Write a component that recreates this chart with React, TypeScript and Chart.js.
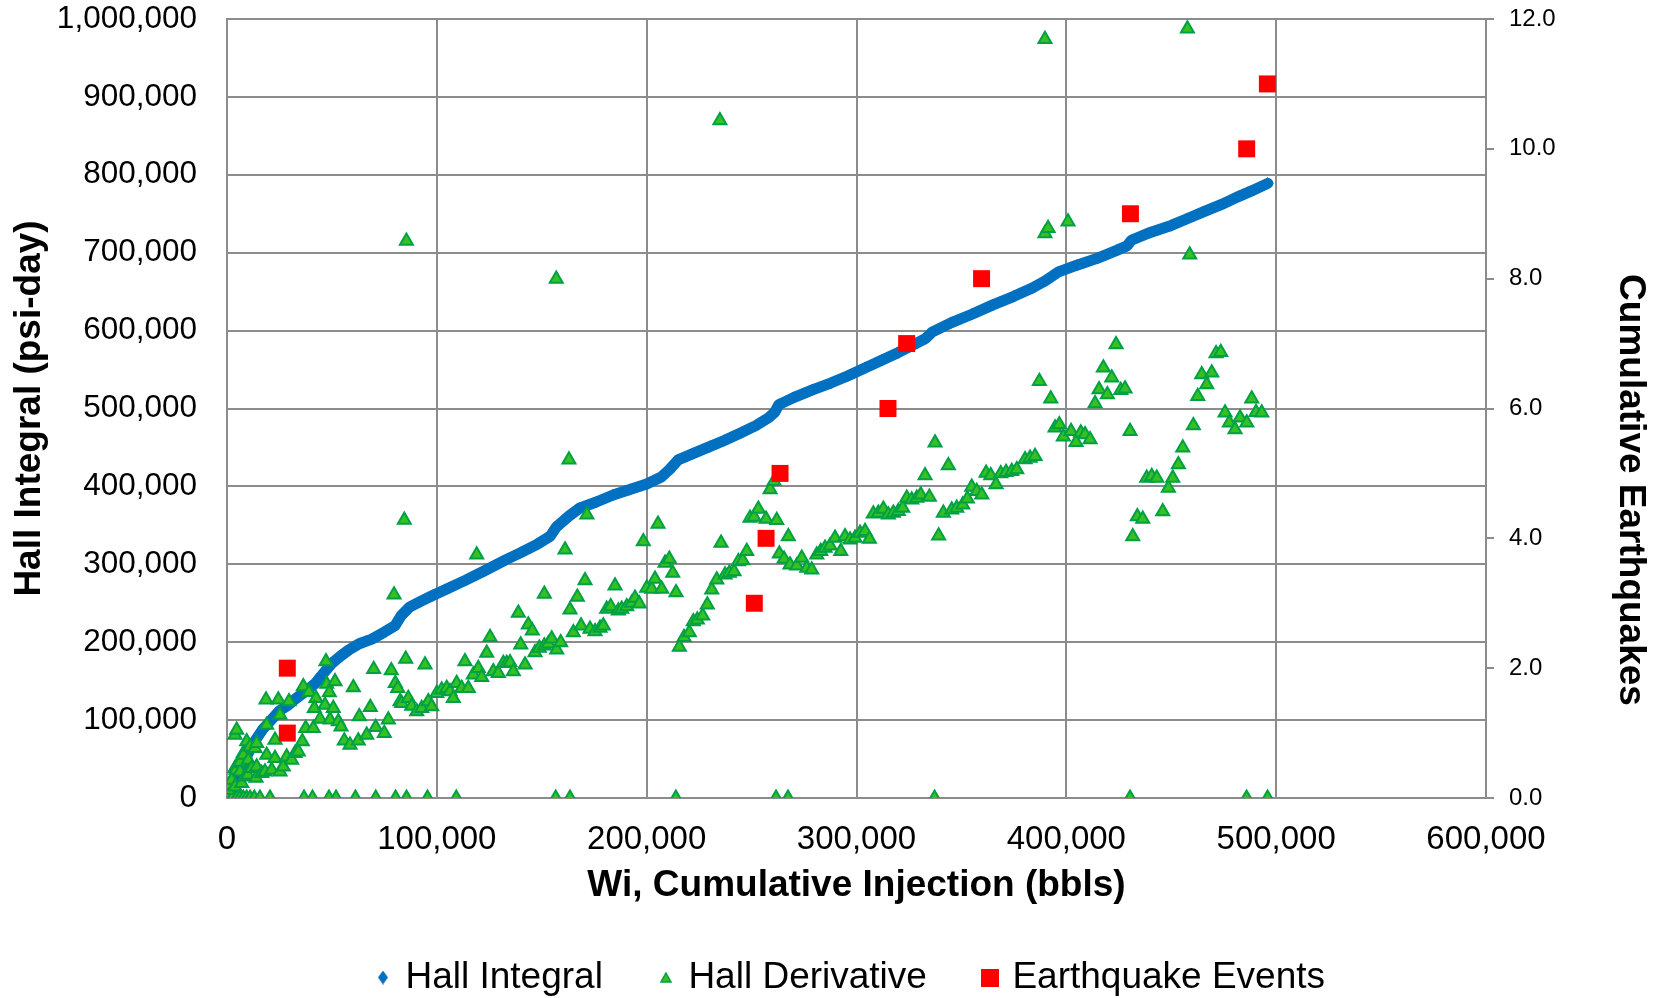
import React, { useEffect, useRef } from 'react';
import { Chart, registerables } from 'chart.js';

Chart.register(...registerables);

// ---------------- data ----------------
const integralX = [0, 3000, 6000, 10000, 14000, 17000, 21000, 25000, 29000, 33000, 37000, 42000, 46000, 50000, 54000, 58000, 63000, 69000, 75000, 80000, 83000, 87000, 92000, 98000, 106000, 114000, 123000, 133000, 140000, 148000, 154000, 157000, 163000, 168000, 176000, 184000, 192000, 200000, 207000, 211000, 215000, 222000, 230000, 237000, 245000, 252000, 258000, 261000, 263000, 270000, 279000, 288000, 296000, 304000, 312000, 320000, 328000, 333000, 336000, 345000, 355000, 365000, 375000, 384000, 390000, 396000, 405000, 415000, 424000, 429000, 431000, 440000, 450000, 457000, 465000, 474000, 482000, 488000, 496000];
const integralY = [0, 14000, 32000, 57000, 76000, 88000, 100000, 112000, 119000, 128000, 136000, 147000, 160000, 173000, 182000, 190000, 198000, 204000, 213000, 221000, 234000, 245000, 252000, 260000, 270000, 280000, 292000, 306000, 315000, 326000, 336000, 348000, 362000, 372000, 380000, 389000, 396000, 403000, 412000, 422000, 434000, 442000, 451000, 459000, 469000, 478000, 488000, 495000, 505000, 514000, 524000, 533000, 542000, 552000, 562000, 572000, 583000, 590000, 598000, 610000, 621000, 633000, 644000, 655000, 664000, 675000, 684000, 693000, 703000, 709000, 716000, 726000, 735000, 743000, 752000, 762000, 772000, 779000, 789000];

const derivX = [600, 2500, 4600, 6200, 7800, 9400, 11000, 13000, 15700, 20500, 36700, 40750, 48600, 51950, 61200, 70900, 80350, 85550, 95550, 109250, 156650, 163450, 213900, 261650, 267350, 337200, 430350, 485900, 495900,
  620, 950, 2240, 3810, 7000, 3810, 4290, 5380, 6200, 6200, 8580, 10000, 13800, 3810, 4620, 7770, 7770, 9390, 10150, 10960, 11770, 13340, 14150, 14150, 16540, 18110, 18920, 18920, 21300, 22880, 22880, 25260, 26830, 25260, 18590, 24450, 29550, 28450, 30830, 32410, 33980, 35890, 37500, 41130, 36370, 39080, 42420, 41610, 46700, 50660, 44320, 49090, 53050, 54330, 47180, 47500, 51470, 48760, 55900, 58620, 62580, 66580, 63050, 60200, 68300, 69900, 70870, 74970, 76880, 78300, 79600, 80200, 81350, 82450, 83260, 84500, 85170, 85500, 86400, 88020, 90410, 92790, 94370, 95940, 97560, 99940, 102330, 104710, 106280, 107850, 109470, 111860, 113400, 115000, 117390, 119000, 119770, 121390, 123770, 125350, 126920, 129310, 131690, 133300, 134880, 136450, 138840, 139980, 142030, 143600, 145510, 146790, 148840, 151220, 151220, 153130, 154750, 156900, 157130, 159040, 161100, 162960, 163470, 165050, 166960, 168720, 170620, 171500, 173000, 175390, 177770, 179350, 180960, 182870, 184920, 186490, 188110, 190500, 192880, 194450, 196500, 198400, 200030, 202410, 203980, 205400, 207170, 208750, 210800, 212420, 214000, 215570, 217810, 220350, 222240, 224140, 226700, 228900, 231000, 233400, 234900, 235440, 237350, 239400, 241630, 243700, 245780, 247700, 249260, 251170, 253220, 256890, 258800, 260700, 261990, 263230, 265470, 267510, 268320, 271520, 273900, 276280, 278670, 281060, 282960, 285010, 287400, 289780, 292490, 294540, 296920, 299300, 301690, 304070, 306130, 308030, 310410, 312790, 315180, 317560, 319940, 322040, 323950, 326330, 328720, 330620, 332670, 334720, 337430, 339150, 341390, 343770, 345390, 347770, 350630, 352830, 354930, 357310, 359700, 361750, 363990, 366510, 368750, 371280, 374000, 376380, 380330, 382710, 385090, 387150, 389800, 389800, 391300, 392580, 394620, 396670, 398570, 400800, 402250, 404630, 406870, 408920, 411300, 413700, 415600, 417650, 419550, 421650, 423700, 425940, 427980, 430370, 431650, 433850, 436420, 438320, 440700, 443090, 445950, 448630, 450720, 453390, 455480, 457700, 458800, 460530, 462630, 464530, 466920, 469300, 471360, 473600, 475640, 477690, 480400, 482800, 485990, 488360, 490410, 493130];
const derivY = [0, 0, 0, 0, 0, 0, 0, 0, 0, 0, 0, 0, 0, 0, 0, 0, 0, 0, 0, 0, 0, 0, 0, 0, 0, 0, 0, 0, 0,
  10300, 16700, 23100, 14500, 18900, 38200, 36000, 44600, 33800, 46300, 27400, 29600, 25700, 81000, 87400, 57500, 55300, 72400, 48800, 65900, 38200, 63900, 70300, 40200, 31700, 33800, 55300, 93800, 36000, 51000, 74500, 33800, 40200, 106700, 126000, 126000, 123800, 53100, 48800, 57500, 59500, 72400, 89600, 89600, 143000, 135800, 128100, 115300, 119500, 115300, 101500, 100300, 98100, 91600, 175200, 146500, 149500, 135300, 73600, 68100, 73600, 81000, 104500, 141800, 116600, 165400, 90900, 83200, 100300, 163600, 260900, 147400, 141000, 123800, 121700, 357000, 178300, 715000, 128100, 118200, 110900, 115300, 170900, 123800, 117300, 134600, 138800, 141000, 136600, 128100, 147400, 141000, 175200, 141000, 158100, 312300, 166700, 155100, 186000, 206500, 162300, 160300, 173100, 173100, 173900, 162300, 237400, 196600, 170900, 222400, 214600, 186800, 192400, 195400, 261800, 197900, 204400, 666200, 190200, 199600, 318800, 434200, 241600, 212500, 258000, 221100, 279300, 363700, 216800, 213700, 218100, 221100, 242500, 245900, 272500, 240500, 242500, 245900, 250200, 256700, 249300, 329400, 269500, 268200, 281000, 351800, 268200, 301700, 306800, 288800, 263900, 193700, 206500, 212500, 226600, 228800, 233900, 248100, 267300, 280200, 869600, 327400, 286600, 288800, 290900, 303700, 305000, 316600, 359500, 360800, 371100, 358200, 395900, 406500, 356400, 313600, 306800, 335800, 299500, 298200, 308100, 295200, 293000, 312300, 316600, 320900, 323900, 333800, 316600, 335800, 331600, 333800, 340300, 342300, 332500, 365000, 365900, 371100, 363700, 365900, 368000, 372300, 385200, 383000, 385200, 389400, 413900, 386500, 455900, 336700, 365900, 426700, 370100, 372300, 376600, 384000, 399300, 393700, 389400, 417300, 413900, 402300, 416400, 418100, 419400, 421600, 434400, 436600, 438700, 535100, 974100, 724500, 731300, 512400, 475200, 479400, 463600, 739800, 470800, 456700, 468800, 466600, 460100, 506400, 524400, 552300, 518000, 539400, 582200, 523500, 525300, 470800, 335800, 361500, 358200, 410900, 413000, 410900, 367700, 398100, 410900, 428000, 449500, 987600, 697400, 478100, 515800, 543700, 530800, 545900, 570700, 572300, 494500, 481600, 473000, 488000, 481600, 512400, 495200, 494500];

const quakeX = [28740, 28740, 251300, 256900, 263560, 315000, 323900, 359600, 430550, 485950, 495800];
const quakeY = [2, 1, 3, 4, 5, 6, 7, 8, 9, 10, 11];

const xTickValues = [0, 100000, 200000, 300000, 400000, 500000, 600000];
const leftTickValues = [0, 100000, 200000, 300000, 400000, 500000, 600000, 700000, 800000, 900000, 1000000];
const rightTickValues = [0, 2, 4, 6, 8, 10, 12];

const seriesNames = ['Hall Integral', 'Hall Derivative', 'Earthquake Events'];
const xTitle = 'Wi, Cumulative Injection (bbls)';
const leftTitle = 'Hall Integral (psi-day)';
const rightTitle = 'Cumulative Earthquakes';

// ---------------- layout / style ----------------
const W = 1655;
const H = 1006;
const PLOT_LEFT = 227;
const PLOT_RIGHT = 1486;
const PLOT_TOP = 19;
const PLOT_BOTTOM = 798;
const LEGEND_FONT = 37;
const LEGEND_PAD = 59;
const LEGEND_SHIFT = 24.5;
const LEGEND_H = LEGEND_FONT + LEGEND_PAD + 10;
const GRID = '#8c8c8c';
const FONT = '"Liberation Sans", Arial, Helvetica, sans-serif';
const BLUE = '#0070C0';
const GREEN_FILL = '#36C21E';
const GREEN_EDGE = '#00A046';
const RED = '#FF0000';

const toPoints = (xs: number[], ys: number[]) => xs.map((x, i) => ({ x, y: ys[i] }));
const fmt = (v: number) => Math.round(v).toLocaleString('en-US');

function legendMarker(kind: string): HTMLCanvasElement {
  const c = document.createElement('canvas');
  const ctx = c.getContext('2d') as CanvasRenderingContext2D;
  if (kind === 'diamond') {
    c.width = 10; c.height = 14;
    ctx.fillStyle = BLUE;
    ctx.beginPath();
    ctx.moveTo(5, 0); ctx.lineTo(10, 7); ctx.lineTo(5, 14); ctx.lineTo(0, 7);
    ctx.closePath(); ctx.fill();
  } else if (kind === 'triangle') {
    c.width = 12; c.height = 11;
    ctx.fillStyle = GREEN_FILL;
    ctx.strokeStyle = GREEN_EDGE;
    ctx.lineWidth = 1.5;
    ctx.beginPath();
    ctx.moveTo(6, 1); ctx.lineTo(11, 10); ctx.lineTo(1, 10);
    ctx.closePath(); ctx.fill(); ctx.stroke();
  } else {
    c.width = 18; c.height = 18;
    ctx.fillStyle = RED;
    ctx.fillRect(0, 0, 18, 18);
  }
  return c;
}

export default function App() {
  const ref = useRef<HTMLCanvasElement | null>(null);

  useEffect(() => {
    document.body.style.margin = '0';
    document.body.style.overflow = 'hidden';
    const canvas = ref.current;
    if (!canvas) return;

    const markers = [legendMarker('diamond'), legendMarker('triangle'), legendMarker('square')];

    const axisTitles = {
      id: 'axisTitles',
      afterDraw(chart: any) {
        const ctx = chart.ctx as CanvasRenderingContext2D;
        ctx.save();
        ctx.fillStyle = '#000';
        ctx.font = `bold 37px ${FONT}`;
        ctx.textAlign = 'center';
        ctx.textBaseline = 'middle';
        ctx.fillText(xTitle, (PLOT_LEFT + PLOT_RIGHT) / 2, 886);
        ctx.save();
        ctx.translate(30, (PLOT_TOP + PLOT_BOTTOM) / 2);
        ctx.rotate(-Math.PI / 2);
        ctx.fillText(leftTitle, 0, 0);
        ctx.restore();
        ctx.save();
        ctx.translate(1630, 490);
        ctx.rotate(Math.PI / 2);
        ctx.fillText(rightTitle, 0, 0);
        ctx.restore();
        ctx.restore();
      },
    };

    const legendShift = {
      id: 'legendShift',
      afterLayout(chart: any) {
        const lg = chart.legend;
        if (lg) {
          lg.left += LEGEND_SHIFT;
          lg.right += LEGEND_SHIFT;
        }
      },
    };

    const zeroPad = (s: any) => {
      s.paddingTop = 0;
      s.paddingBottom = 0;
      s.paddingLeft = 0;
      s.paddingRight = 0;
    };

    const chart = new Chart(canvas, {
      type: 'scatter',
      data: {
        datasets: [
          {
            label: seriesNames[0],
            data: toPoints(integralX, integralY),
            yAxisID: 'y',
            showLine: true,
            borderColor: BLUE,
            borderWidth: 11,
            borderJoinStyle: 'round',
            borderCapStyle: 'round',
            backgroundColor: BLUE,
            pointStyle: 'rectRot',
            pointRadius: 6,
            pointBorderWidth: 0,
            pointBackgroundColor: BLUE,
            order: 3,
          },
          {
            label: seriesNames[1],
            data: toPoints(derivX, derivY),
            yAxisID: 'y',
            showLine: false,
            pointStyle: 'triangle',
            pointRadius: 7.5,
            pointBorderWidth: 2,
            backgroundColor: GREEN_FILL,
            borderColor: GREEN_EDGE,
            pointBackgroundColor: GREEN_FILL,
            pointBorderColor: GREEN_EDGE,
            order: 2,
          },
          {
            label: seriesNames[2],
            data: toPoints(quakeX, quakeY),
            yAxisID: 'y2',
            showLine: false,
            pointStyle: 'rect',
            pointRadius: 12,
            pointBorderWidth: 0,
            backgroundColor: RED,
            borderColor: RED,
            pointBackgroundColor: RED,
            order: 1,
          },
        ],
      },
      options: {
        responsive: false,
        maintainAspectRatio: false,
        devicePixelRatio: 1,
        animation: false,
        events: [],
        layout: { padding: { top: PLOT_TOP, left: 0, right: 0, bottom: 0 } },
        plugins: {
          tooltip: { enabled: false },
          title: { display: false },
          legend: {
            display: true,
            position: 'bottom',
            labels: {
              usePointStyle: true,
              boxWidth: 8,
              boxHeight: 10,
              padding: LEGEND_PAD,
              color: '#000',
              font: { family: FONT, size: LEGEND_FONT },
              sort: (a: any, b: any) => a.datasetIndex - b.datasetIndex,
              generateLabels: (ch: any) => {
                const items = (Chart.defaults.plugins.legend.labels as any).generateLabels(ch);
                items.forEach((it: any) => {
                  it.pointStyle = markers[it.datasetIndex];
                });
                return items;
              },
            },
          },
        },
        scales: {
          x: {
            type: 'linear',
            position: 'bottom',
            min: 0,
            max: 600000,
            afterBuildTicks: (s: any) => {
              s.ticks = xTickValues.map((value) => ({ value }));
            },
            afterFit: (s: any) => {
              zeroPad(s);
              s.height = H - PLOT_BOTTOM - LEGEND_H;
            },
            ticks: {
              color: '#000',
              font: { family: FONT, size: 33 },
              padding: 22,
              maxRotation: 0,
              autoSkip: false,
              callback: (v: any) => fmt(Number(v)),
            },
            grid: { color: GRID, lineWidth: 2, drawTicks: false },
            border: { color: GRID, width: 2 },
          },
          y: {
            type: 'linear',
            position: 'left',
            min: 0,
            max: 1000000,
            afterBuildTicks: (s: any) => {
              s.ticks = leftTickValues.map((value) => ({ value }));
            },
            afterFit: (s: any) => {
              zeroPad(s);
              s.width = PLOT_LEFT;
            },
            ticks: {
              color: '#000',
              font: { family: FONT, size: 31.5 },
              padding: 30,
              autoSkip: false,
              callback: (v: any) => fmt(Number(v)),
            },
            grid: { color: GRID, lineWidth: 2, drawTicks: false },
            border: { color: GRID, width: 2 },
          },
          y2: {
            type: 'linear',
            position: 'right',
            min: 0,
            max: 12,
            afterBuildTicks: (s: any) => {
              s.ticks = rightTickValues.map((value) => ({ value }));
            },
            afterFit: (s: any) => {
              zeroPad(s);
              s.width = W - PLOT_RIGHT;
            },
            ticks: {
              color: '#000',
              font: { family: FONT, size: 24 },
              padding: 15,
              autoSkip: false,
              crossAlign: 'near',
              callback: (v: any) => Number(v).toFixed(1),
            },
            grid: { drawOnChartArea: false, drawTicks: true, tickLength: 8, color: GRID, lineWidth: 2 },
            border: { color: GRID, width: 2 },
          },
        },
      },
      plugins: [axisTitles, legendShift],
    } as any);

    return () => chart.destroy();
  }, []);

  return (
    <div style={{ position: 'fixed', left: 0, top: 0, width: W, height: H, background: '#fff', overflow: 'hidden' }}>
      <canvas ref={ref} width={W} height={H} style={{ display: 'block', width: W, height: H }} />
    </div>
  );
}
